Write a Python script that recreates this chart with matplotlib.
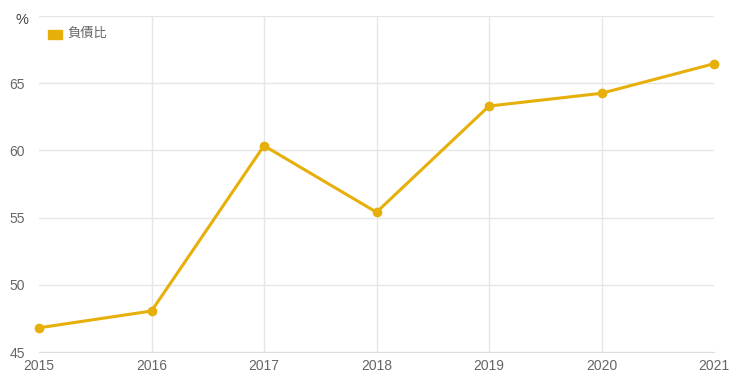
import matplotlib
matplotlib.use("Agg")
import matplotlib.pyplot as plt
from matplotlib.patches import Rectangle

plt.rcParams['font.family'] = ['Liberation Sans', 'Noto Sans CJK TC', 'DejaVu Sans']

years = [2015, 2016, 2017, 2018, 2019, 2020, 2021]
debt_ratio = [46.8, 48.05, 60.35, 55.4, 63.3, 64.25, 66.45]
series_name = "負債比"
line_color = "#E6AF0A"
grid_color = "#E6E6E6"
text_color = "#666666"

fig = plt.figure(figsize=(7.4, 3.84), dpi=100)
ax = fig.add_axes([39 / 740, 32 / 384, 675 / 740, 336 / 384])

ax.plot(years, debt_ratio, color=line_color, linewidth=2.2,
        marker='o', markersize=6, clip_on=False, zorder=3)

ax.set_xlim(2015, 2021)
ax.set_ylim(45, 70)
ax.set_xticks(years)
ax.set_yticks([45, 50, 55, 60, 65])
ax.grid(True, axis='y', color=grid_color, linewidth=1)
# vertical grid only between the edge years
for yr in years[1:-1]:
    ax.axvline(yr, color=grid_color, linewidth=1, zorder=0)
ax.axhline(70, color=grid_color, linewidth=1)
for s in ['top', 'right', 'left']:
    ax.spines[s].set_visible(False)
ax.spines['bottom'].set_color("#DDDDDD")
ax.tick_params(length=0, colors=text_color, labelsize=10)
ax.tick_params(axis='y', pad=10)
ax.tick_params(axis='x', pad=5)

fig.text(22 / 740, 1 - 20 / 384, "%", ha='center', va='center',
         color="#444444", fontsize=10.5)
fig.patches.append(Rectangle((48 / 740, 1 - 39 / 384), 14 / 740, 9 / 384,
                             transform=fig.transFigure, color=line_color))
fig.text(67 / 740, 1 - 34 / 384, series_name, ha='left', va='center',
         color=text_color, fontsize=9.5)

fig.savefig("out.png", dpi=100)
